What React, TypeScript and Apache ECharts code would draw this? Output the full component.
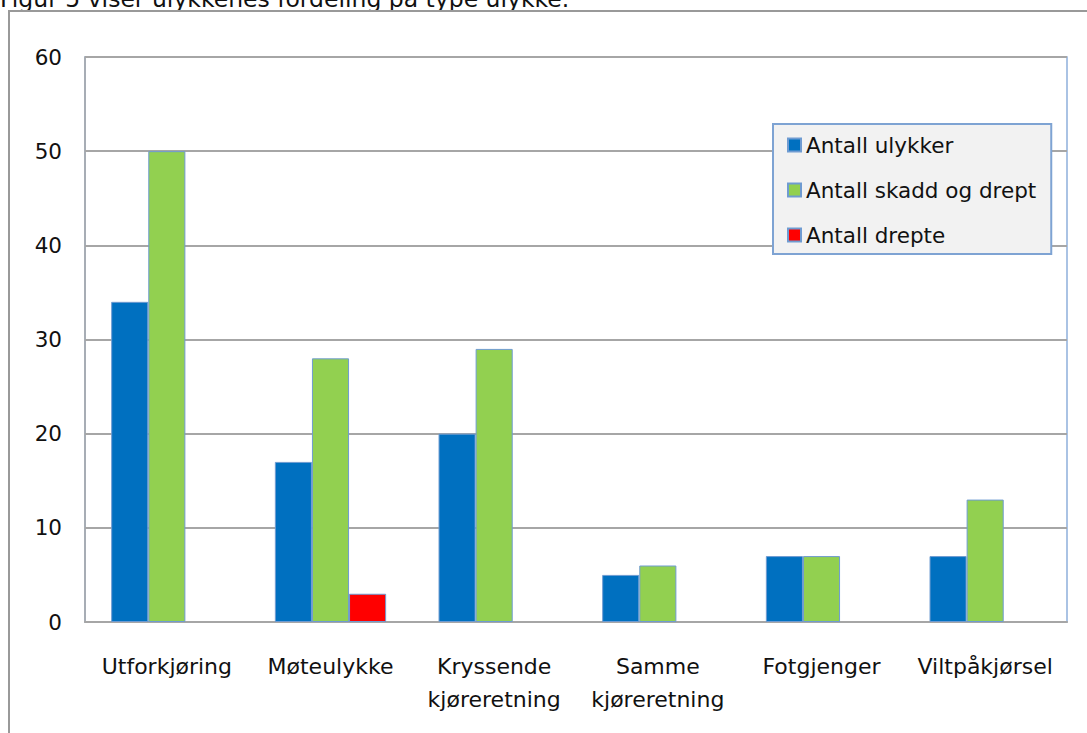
import React, { useEffect, useRef } from "react";
import * as echarts from "echarts";

const categories = [
  "Utforkjøring",
  "Møteulykke",
  "Kryssende\nkjøreretning",
  "Samme\nkjøreretning",
  "Fotgjenger",
  "Viltpåkjørsel",
];
const seriesNames = ["Antall ulykker", "Antall skadd og drept", "Antall drepte"];
const antallUlykker = [34, 17, 20, 5, 7, 7];
const antallSkaddOgDrept = [50, 28, 29, 6, 7, 13];
const antallDrepte = [0, 3, 0, 0, 0, 0];
const seriesColors = ["#0070c0", "#92d050", "#ff0000"];
const yTicks = { min: 0, max: 60, interval: 10 };
const captionText = "Figur 5 viser ulykkenes fordeling på type ulykke.";

const FONT = "'DejaVu Sans', Verdana, sans-serif";

export default function App() {
  const ref = useRef<HTMLDivElement>(null);
  useEffect(() => {
    if (!ref.current) return;
    const chart = echarts.init(ref.current, undefined, { renderer: "svg" });
    const values = [antallUlykker, antallSkaddOgDrept, antallDrepte];
    chart.setOption({
      animation: false,
      backgroundColor: "#ffffff",
      textStyle: { fontFamily: FONT },
      grid: {
        left: 85,
        top: 57,
        right: 20,
        bottom: 111,
        show: true,
        borderColor: "#8fb0dc",
        borderWidth: 1.5,
        backgroundColor: "transparent",
      },
      legend: {
        orient: "vertical",
        left: 773,
        top: 124,
        data: seriesNames,
        backgroundColor: "#f2f2f2",
        borderColor: "#7ea3d3",
        borderWidth: 2,
        borderRadius: 0,
        padding: [10, 15, 8, 14],
        itemWidth: 13,
        itemHeight: 13,
        itemGap: 23,
        icon: "rect",
        textStyle: {
          fontFamily: FONT,
          fontSize: 21.5,
          lineHeight: 22,
          color: "#111",
        },
      },
      xAxis: {
        type: "category",
        data: categories,
        axisLine: { show: true, lineStyle: { color: "#a6a6a6", width: 2 } },
        axisTick: { show: false },
        axisLabel: {
          fontFamily: FONT,
          fontSize: 22,
          lineHeight: 33,
          color: "#111",
          margin: 28,
          interval: 0,
        },
      },
      yAxis: {
        type: "value",
        min: yTicks.min,
        max: yTicks.max,
        interval: yTicks.interval,
        axisLine: { show: true, lineStyle: { color: "#a6a6a6", width: 1.5 } },
        axisTick: { show: false },
        axisLabel: {
          fontFamily: FONT,
          fontSize: 21.5,
          color: "#111",
          margin: 23,
        },
        splitLine: { show: true, lineStyle: { color: "#a6a6a6", width: 2 } },
      },
      graphic: [
        {
          type: "text",
          x: 0,
          y: -1,
          silent: true,
          style: {
            text: captionText,
            fontFamily: FONT,
            fontSize: 23.5,
            fill: "#111",
            verticalAlign: "middle",
            align: "left",
          },
        },
        {
          type: "line",
          silent: true,
          shape: { x1: 8, y1: 11, x2: 1087, y2: 11 },
          style: { stroke: "#999999", lineWidth: 2 },
        },
        {
          type: "line",
          silent: true,
          shape: { x1: 9, y1: 10, x2: 9, y2: 733 },
          style: { stroke: "#999999", lineWidth: 2 },
        },
      ],
      series: seriesNames.map((name, i) => ({
        name,
        type: "bar",
        data: values[i].map((v) =>
          v === 0 ? { value: v, itemStyle: { borderWidth: 0, opacity: 0 } } : v
        ),
        barGap: "0%",
        barCategoryGap: "32%",
        itemStyle: {
          color: seriesColors[i],
          borderColor: "#6f9bd1",
          borderWidth: 1,
        },
      })),
    });
    return () => chart.dispose();
  }, []);
  return (
    <div
      ref={ref}
      style={{ position: "absolute", left: 0, top: 0, width: 1087, height: 733 }}
    />
  );
}
